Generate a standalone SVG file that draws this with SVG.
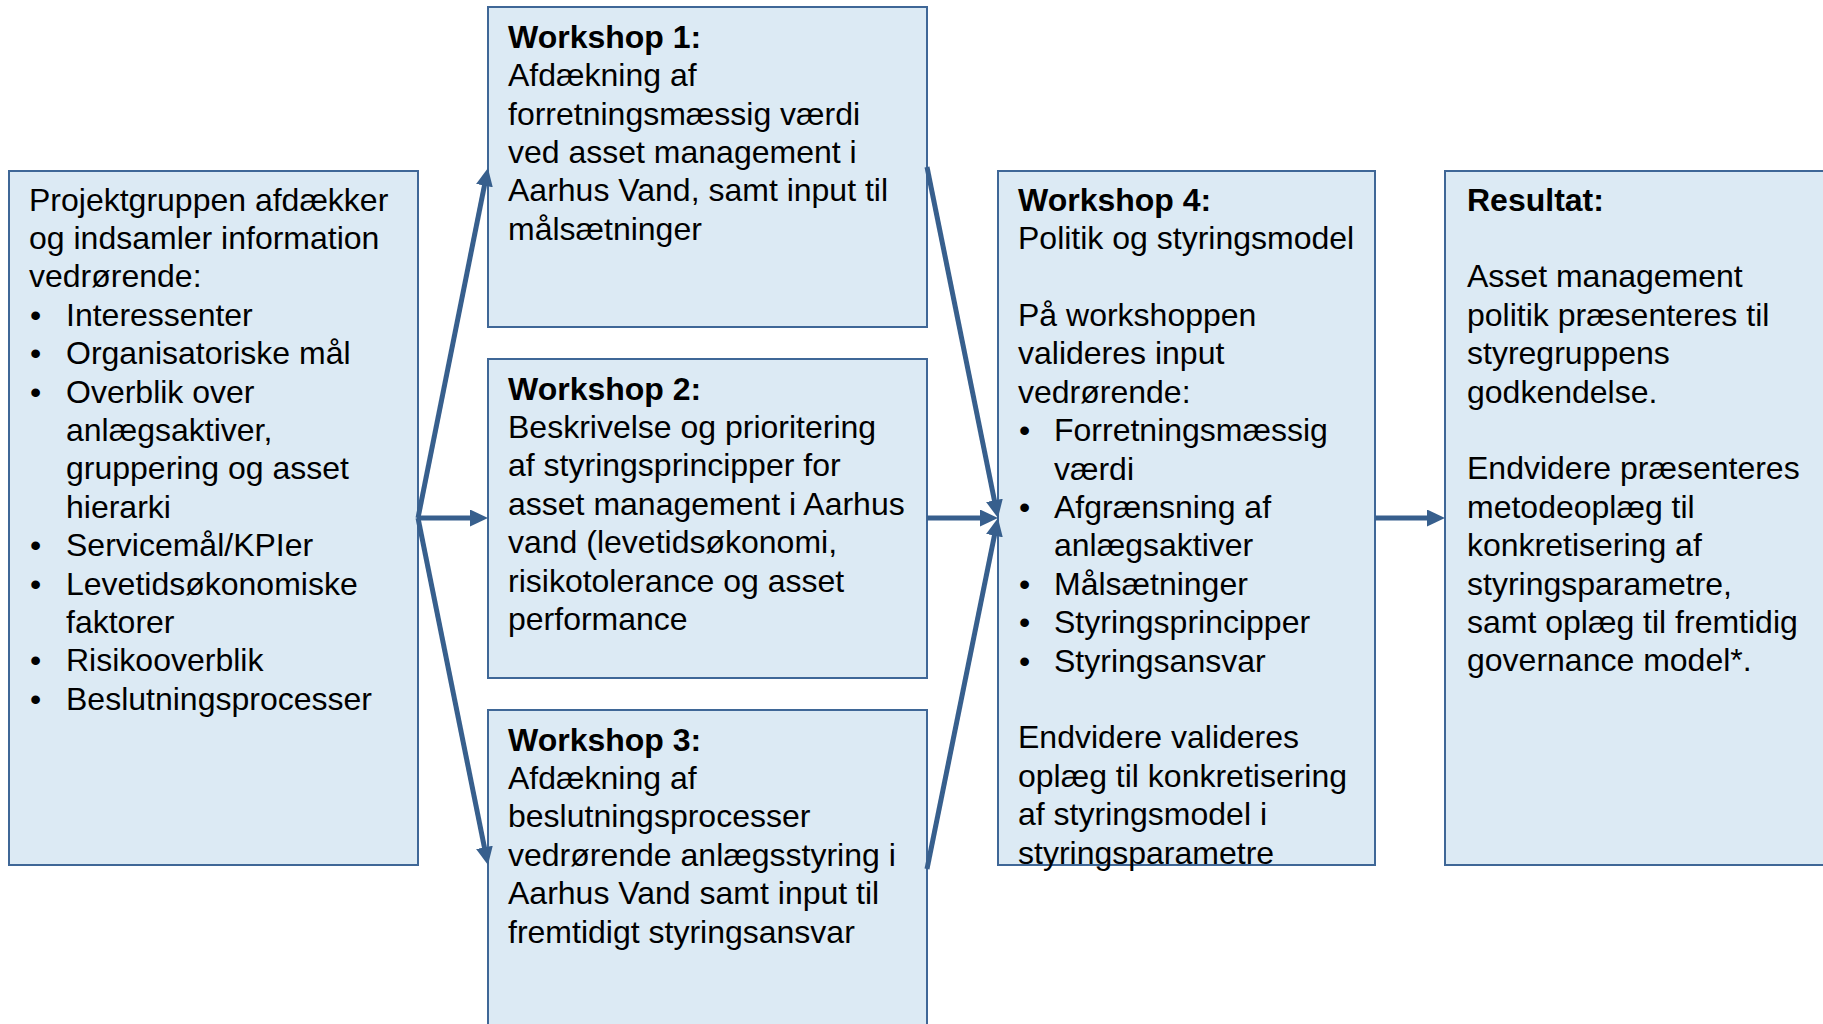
<svg xmlns="http://www.w3.org/2000/svg" width="1823" height="1024" viewBox="0 0 1823 1024">
<defs>
<style>
.box{fill:#DCEAF4;stroke:#3F6797;stroke-width:2}
.t{font-family:"Liberation Sans",Arial,sans-serif;font-size:32px;fill:#000}
.b{font-weight:bold}
.arr{stroke:#375F8D;stroke-width:5;fill:none;marker-end:url(#ah)}
</style>
<marker id="ah" markerUnits="userSpaceOnUse" markerWidth="18" markerHeight="17" refX="10" refY="8.5" orient="auto">
<path d="M0,0 L18,8.5 L0,17 z" fill="#375F8D"/>
</marker>
</defs>
<rect width="1823" height="1024" fill="#fff"/>

<g id="projektgruppen">
<rect class="box" x="9" y="171" width="409" height="694"/>
<text class="t">
<tspan x="29" y="210.5">Projektgruppen afdækker</tspan>
<tspan x="29" y="248.9">og indsamler information</tspan>
<tspan x="29" y="287.3">vedrørende:</tspan>
<tspan x="30" y="325.7">•</tspan><tspan x="66" y="325.7">Interessenter</tspan>
<tspan x="30" y="364.1">•</tspan><tspan x="66" y="364.1">Organisatoriske mål</tspan>
<tspan x="30" y="402.5">•</tspan><tspan x="66" y="402.5">Overblik over</tspan>
<tspan x="66" y="440.9">anlægsaktiver,</tspan>
<tspan x="66" y="479.3">gruppering og asset</tspan>
<tspan x="66" y="517.7">hierarki</tspan>
<tspan x="30" y="556.1">•</tspan><tspan x="66" y="556.1">Servicemål/KPIer</tspan>
<tspan x="30" y="594.5">•</tspan><tspan x="66" y="594.5">Levetidsøkonomiske</tspan>
<tspan x="66" y="632.9">faktorer</tspan>
<tspan x="30" y="671.3">•</tspan><tspan x="66" y="671.3">Risikooverblik</tspan>
<tspan x="30" y="709.7">•</tspan><tspan x="66" y="709.7">Beslutningsprocesser</tspan>
</text>
</g>

<g id="workshop1">
<rect class="box" x="488" y="7" width="439" height="320"/>
<text class="t">
<tspan class="b" x="508" y="47.7">Workshop 1:</tspan>
<tspan x="508" y="86.1">Afdækning af</tspan>
<tspan x="508" y="124.5">forretningsmæssig værdi</tspan>
<tspan x="508" y="162.9">ved asset management i</tspan>
<tspan x="508" y="201.3">Aarhus Vand, samt input til</tspan>
<tspan x="508" y="239.7">målsætninger</tspan>
</text>
</g>

<g id="workshop2">
<rect class="box" x="488" y="359" width="439" height="319"/>
<text class="t">
<tspan class="b" x="508" y="399.5">Workshop 2:</tspan>
<tspan x="508" y="437.9">Beskrivelse og prioritering</tspan>
<tspan x="508" y="476.3">af styringsprincipper for</tspan>
<tspan x="508" y="514.7">asset management i Aarhus</tspan>
<tspan x="508" y="553.1">vand (levetidsøkonomi,</tspan>
<tspan x="508" y="591.5">risikotolerance og asset</tspan>
<tspan x="508" y="629.9">performance</tspan>
</text>
</g>

<g id="workshop3">
<rect class="box" x="488" y="710" width="439" height="330"/>
<text class="t">
<tspan class="b" x="508" y="750.6">Workshop 3:</tspan>
<tspan x="508" y="789">Afdækning af</tspan>
<tspan x="508" y="827.4">beslutningsprocesser</tspan>
<tspan x="508" y="865.8">vedrørende anlægsstyring i</tspan>
<tspan x="508" y="904.2">Aarhus Vand samt input til</tspan>
<tspan x="508" y="942.6">fremtidigt styringsansvar</tspan>
</text>
</g>

<g id="workshop4">
<rect class="box" x="998" y="171" width="377" height="694"/>
<text class="t">
<tspan class="b" x="1018" y="210.7">Workshop 4:</tspan>
<tspan x="1018" y="249.1">Politik og styringsmodel</tspan>
<tspan x="1018" y="325.9">På workshoppen</tspan>
<tspan x="1018" y="364.3">valideres input</tspan>
<tspan x="1018" y="402.7">vedrørende:</tspan>
<tspan x="1019" y="441.1">•</tspan><tspan x="1054" y="441.1">Forretningsmæssig</tspan>
<tspan x="1054" y="479.5">værdi</tspan>
<tspan x="1019" y="517.9">•</tspan><tspan x="1054" y="517.9">Afgrænsning af</tspan>
<tspan x="1054" y="556.3">anlægsaktiver</tspan>
<tspan x="1019" y="594.7">•</tspan><tspan x="1054" y="594.7">Målsætninger</tspan>
<tspan x="1019" y="633.1">•</tspan><tspan x="1054" y="633.1">Styringsprincipper</tspan>
<tspan x="1019" y="671.5">•</tspan><tspan x="1054" y="671.5">Styringsansvar</tspan>
<tspan x="1018" y="748.3">Endvidere valideres</tspan>
<tspan x="1018" y="786.7">oplæg til konkretisering</tspan>
<tspan x="1018" y="825.1">af styringsmodel i</tspan>
<tspan x="1018" y="863.5">styringsparametre</tspan>
</text>
</g>

<g id="resultat">
<rect class="box" x="1445" y="171" width="390" height="694"/>
<text class="t">
<tspan class="b" x="1467" y="210.5">Resultat:</tspan>
<tspan x="1467" y="287.3">Asset management</tspan>
<tspan x="1467" y="325.7">politik præsenteres til</tspan>
<tspan x="1467" y="364.1">styregruppens</tspan>
<tspan x="1467" y="402.5">godkendelse.</tspan>
<tspan x="1467" y="479.3">Endvidere præsenteres</tspan>
<tspan x="1467" y="517.7">metodeoplæg til</tspan>
<tspan x="1467" y="556.1">konkretisering af</tspan>
<tspan x="1467" y="594.5">styringsparametre,</tspan>
<tspan x="1467" y="632.9">samt oplæg til fremtidig</tspan>
<tspan x="1467" y="671.3">governance model*.</tspan>
</text>
</g>

<g id="connectors">
<line class="arr" x1="418" y1="518" x2="486.4" y2="175.8"/>
<line class="arr" x1="418" y1="518" x2="480" y2="518"/>
<line class="arr" x1="418" y1="518" x2="486.4" y2="857.2"/>
<line class="arr" x1="927" y1="167" x2="996.4" y2="510.2"/>
<line class="arr" x1="927" y1="518" x2="990" y2="518"/>
<line class="arr" x1="927" y1="869" x2="996.4" y2="525.8"/>
<line class="arr" x1="1375" y1="518" x2="1437" y2="518"/>
</g>
</svg>
